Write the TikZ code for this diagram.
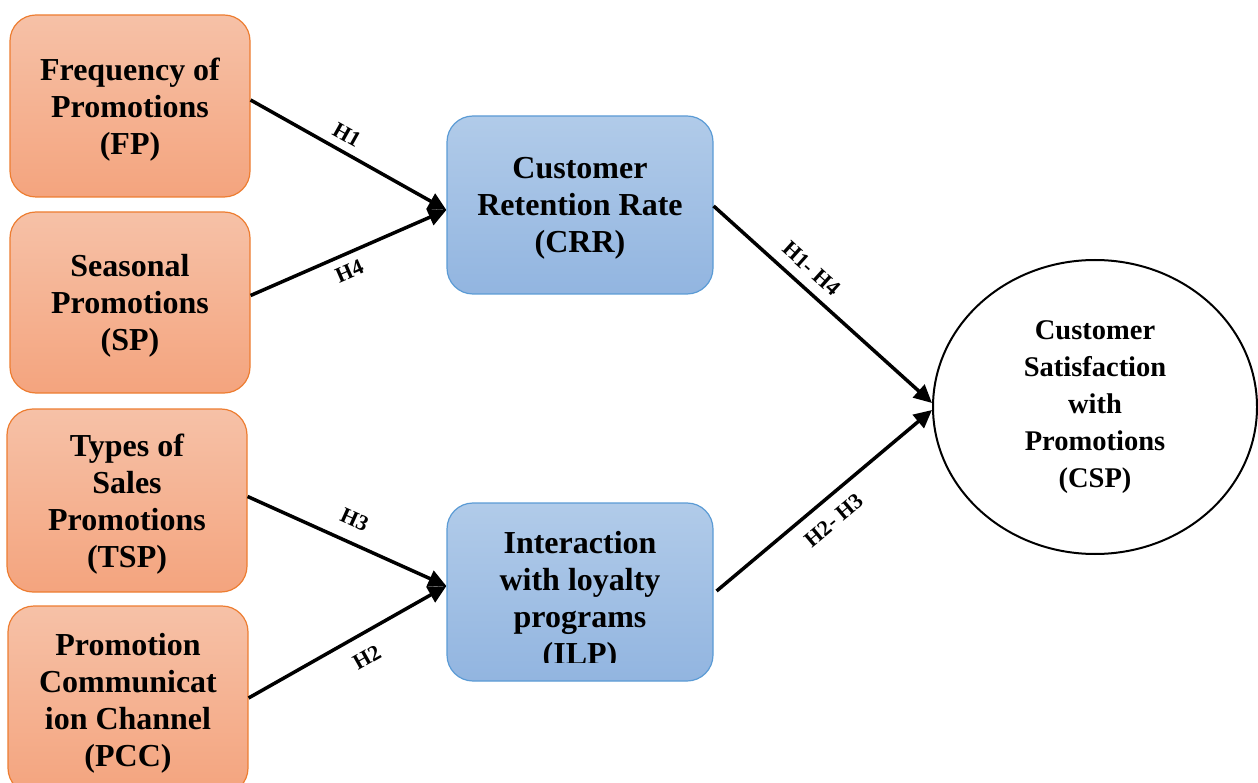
\documentclass[tikz,border=0pt]{standalone}
\usepackage{fontspec}
\setmainfont{Liberation Serif}
\usetikzlibrary{shapes.geometric,arrows.meta}
\definecolor{ortop}{HTML}{F6C1A7}
\definecolor{orbot}{HTML}{F4A47E}
\definecolor{ordraw}{HTML}{ED7D31}
\definecolor{bltop}{HTML}{B1CBE9}
\definecolor{blbot}{HTML}{92B5E0}
\definecolor{bldraw}{HTML}{5B9BD5}
\begin{document}
\begin{tikzpicture}[x=1pt,y=-1pt,
  ivbox/.style={draw=ordraw,line width=1.2pt,top color=ortop,bottom color=orbot,
    rounded corners=26pt,minimum width=240pt,align=center,text depth=-3pt,
    font=\fontsize{32}{37}\selectfont\bfseries},
  medbox/.style={draw=bldraw,line width=1.2pt,top color=bltop,bottom color=blbot,
    rounded corners=26pt,minimum width=266pt,minimum height=178pt,align=center,
    text depth=-6pt,font=\fontsize{32}{37}\selectfont\bfseries},
  medtext/.style={align=center,font=\fontsize{32}{37}\selectfont\bfseries},
  depnode/.style={ellipse,draw,line width=2pt,minimum width=324pt,minimum height=294pt,
    inner sep=0pt,align=center,font=\fontsize{28.5}{37}\selectfont\bfseries},
  hyp/.style={line width=3.5pt,-{Triangle[length=18pt,width=17pt]}},
  lbl/.style={font=\fontsize{22}{24}\selectfont\bfseries,inner sep=2pt,sloped}]
\path[use as bounding box] (0,0) rectangle (1258,783);
\clip (0,0) rectangle (1258,783);
% independent variables
\node[ivbox,minimum height=182pt] (fp) at (130,106) {Frequency of\\Promotions\\(FP)};
\node[ivbox,minimum height=181pt] (sp) at (130,302.5) {Seasonal\\Promotions\\(SP)};
\node[ivbox,minimum height=183pt] (tsp) at (127,500.5) {Types of\\Sales\\Promotions\\(TSP)};
\node[ivbox,minimum height=188pt] (pcc) at (128,700) {Promotion\\Communicat\\ion Channel\\(PCC)};
% mediators
\node[medbox] (crr) at (580,205) {Customer\\Retention Rate\\(CRR)};
\node[medbox] (ilp) at (580,592) {};
\begin{scope}
\clip (447,503) rectangle (713,662);
\node[medtext] (ilptxt) at (580,601) {Interaction\\with loyalty\\programs\\(ILP)};
\end{scope}
% dependent variable
\node[depnode] (csp) at (1095,407) {Customer\\Satisfaction\\with\\Promotions\\(CSP)};
% hypotheses
\draw[hyp] ([yshift=6]fp.east) -- ([yshift=-5]crr.west) node[lbl,pos=.45,above=6pt] {H1};
\draw[hyp] ([yshift=7]sp.east) -- ([yshift=-5]crr.west) node[lbl,pos=.47,below=6pt] {H4};
\draw[hyp] ([yshift=4]tsp.east) -- ([yshift=6]ilp.west) node[lbl,pos=.49,above=12pt] {H3};
\draw[hyp] ([yshift=2]pcc.east) -- ([yshift=6]ilp.west) node[lbl,pos=.54,below=12pt] {H2};
\draw[hyp] ([yshift=-1]crr.east) -- ([yshift=4]csp.west) node[lbl,pos=.39,above=8pt] {H1- H4};
\draw[hyp] ([xshift=3,yshift=1]ilp.east) -- ([yshift=-3]csp.west) node[lbl,pos=.48,below=10pt] {H2- H3};
\end{tikzpicture}
\end{document}
